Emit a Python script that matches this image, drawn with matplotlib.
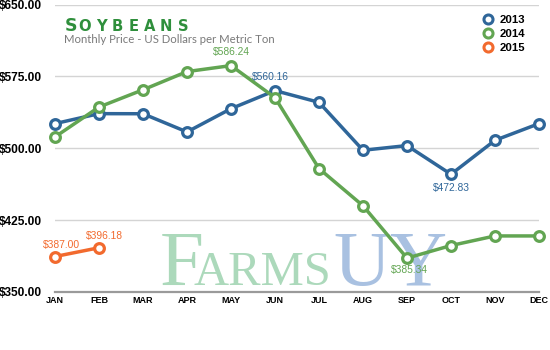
import matplotlib.pyplot as plt
from matplotlib.lines import Line2D
from matplotlib.transforms import IdentityTransform

months = ["JAN", "FEB", "MAR", "APR", "MAY", "JUN", "JUL", "AUG", "SEP", "OCT", "NOV", "DEC"]
price_2013 = [525.7, 536.1, 536.0, 517.0, 541.3, 560.16, 547.9, 497.9, 502.8, 472.83, 508.3, 525.7]
price_2014 = [511.8, 543.0, 561.0, 580.0, 586.24, 552.8, 478.8, 440.0, 385.34, 398.5, 408.5, 408.5]
price_2015 = [387.00, 396.18]
y_ticks = [350, 425, 500, 575, 650]

c2013 = "#2f6699"
c2014 = "#62a552"
c2015 = "#f26a2e"

W, H = 550, 350
fig = plt.figure(figsize=(W / 100, H / 100), dpi=100)
ax = fig.add_axes([55 / W, 1 - 292 / H, (539 - 55) / W, (292 - 4.5) / H])

x13 = range(len(price_2013))
x14 = range(len(price_2014))
x15 = range(len(price_2015))
style = dict(lw=2.5, marker="o", markersize=7, markerfacecolor="white",
             markeredgewidth=2.3, clip_on=False, zorder=5)
ax.plot(x13, price_2013, color=c2013, **style)
ax.plot(x14, price_2014, color=c2014, **style)
ax.plot(x15, price_2015, color=c2015, **style)

ax.set_xlim(0, 11)
ax.set_ylim(350, 650)
ax.set_xticks(range(12))
ax.set_xticklabels(months, fontsize=6.5, fontweight="bold", family="Liberation Sans")
ax.set_yticks(y_ticks)
ax.set_yticklabels([f"${v:.2f}" for v in y_ticks], fontsize=8.6,
                   fontweight="bold", family="Liberation Sans")
ax.tick_params(length=0, pad=3)
ax.tick_params(axis="y", pad=9)
ax.grid(axis="y", color="#d4d4d4", lw=1)
ax.set_axisbelow(True)
for s in ["top", "right", "left"]:
    ax.spines[s].set_visible(False)
ax.spines["bottom"].set_color("#9a9a9a")
ax.spines["bottom"].set_linewidth(1.6)

# value labels for highlighted points
lab = dict(fontsize=7.4, family="Liberation Sans", ha="center", zorder=6)
ax.annotate(f"${price_2013[5]:.2f}", (5, price_2013[5]), xytext=(-3, 6),
            textcoords="offset points", va="bottom", color=c2013, **lab)
ax.annotate(f"${price_2013[9]:.2f}", (9, price_2013[9]), xytext=(0, -6),
            textcoords="offset points", va="top", color=c2013, **lab)
ax.annotate(f"${price_2014[4]:.2f}", (4, price_2014[4]), xytext=(0, 6),
            textcoords="offset points", va="bottom", color=c2014, **lab)
ax.annotate(f"${price_2014[8]:.2f}", (8, price_2014[8]), xytext=(2, -5),
            textcoords="offset points", va="top", color=c2014, **lab)
ax.annotate(f"${price_2015[0]:.2f}", (0, price_2015[0]), xytext=(5, 5),
            textcoords="offset points", va="bottom", color=c2015, **lab)
ax.annotate(f"${price_2015[1]:.2f}", (1, price_2015[1]), xytext=(4, 5),
            textcoords="offset points", va="bottom", color=c2015, **lab)

# legend with marker-only handles
handles = [Line2D([], [], ls="none", marker="o", markersize=6.5, markerfacecolor="white",
                  markeredgewidth=2.2, markeredgecolor=c) for c in (c2013, c2014, c2015)]
fig.legend(handles, ["2013", "2014", "2015"], loc="upper left",
           bbox_to_anchor=(478 / W, 1 - 9 / H), frameon=False, handlelength=0.8,
           handletextpad=0.6, labelspacing=0.35, borderpad=0,
           prop=dict(family="Liberation Sans", weight="bold", size=8.2))

renderer = fig.canvas.get_renderer()


def pixel_text(x, y, s, **kw):
    # x from left, y from top, in pixels
    return fig.text(x, H - y, s, transform=IdentityTransform(), **kw)


# title in small caps with letter spacing
x = 65
for i, ch in enumerate("SOYBEANS"):
    size = 12.5 if i == 0 else 10.6
    t = pixel_text(x, 31, ch, fontsize=size, fontweight="bold", color="#2f8f3c",
                   family="DejaVu Sans", va="baseline")
    x += t.get_window_extent(renderer).width + (0.5 if i == 0 else 5.2)

pixel_text(64, 43, "Monthly Price - US Dollars per Metric Ton", fontsize=8.2,
           color="#7a7a7a", family="Lato", va="baseline")

# watermark
wm = dict(family="Liberation Serif", va="baseline", zorder=0)
pixel_text(160, 285, "F", fontsize=57, color="#acd9bb", **wm)
pixel_text(194, 285, "ARMS", fontsize=35, color="#acd9bb", **wm)
pixel_text(333, 285, "UY", fontsize=57, color="#a9c1e1", **wm)

ax.set_zorder(2)
ax.patch.set_visible(False)

fig.savefig("out.png", dpi=100)
